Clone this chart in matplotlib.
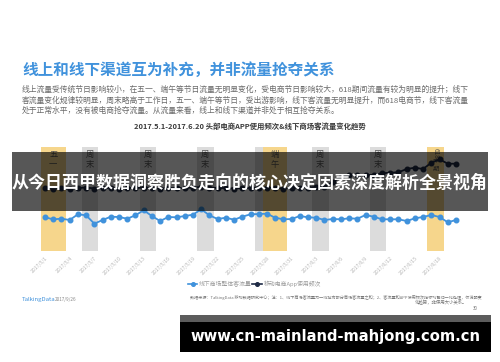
import numpy as np
import pandas as pd
import matplotlib
matplotlib.use("Agg")
import matplotlib.pyplot as plt
from matplotlib.patches import Rectangle

plt.rcParams['font.family'] = ['Noto Sans CJK SC', 'DejaVu Sans']

# ---------------- data ----------------
dates = pd.date_range('2017-05-01', '2017-06-20', freq='D')
day_idx = np.arange(len(dates))

offline_traffic = [33.7, 31.7, 32.3, 31.0, 36.7, 35.7, 27.3, 31.0, 34.3, 34.0,
                   32.3, 35.7, 40.7, 35.0, 30.0, 34.0, 33.7, 35.0, 36.3, 41.7,
                   35.7, 32.0, 33.3, 31.3, 34.3, 36.7, 37.0, 37.3, 33.3, 31.7,
                   32.0, 35.0, 33.7, 33.3, 31.0, 32.0, 31.7, 32.7, 32.3, 36.0,
                   34.3, 31.7, 31.7, 31.7, 30.0, 32.7, 34.0, 36.0, 34.0, 28.7,
                   31.0]
app_usage = [63.0, 62.5, 63.0, 62.0, 63.0, 63.5, 62.5, 63.0, 63.0, 62.5,
             63.0, 63.0, 63.5, 63.0, 62.5, 63.0, 63.0, 63.0, 63.5, 64.0,
             63.5, 63.0, 63.0, 62.5, 63.0, 63.0, 63.5, 63.5, 63.0, 62.5,
             63.0, 63.5, 63.5, 64.0, 64.5, 69.0, 74.0, 76.0, 76.0, 76.0,
             76.0, 77.7, 78.3, 78.7, 82.0, 83.3, 82.0, 88.3, 91.7, 87.3,
             87.3]

tick_days = list(range(0, 51, 3))
tick_labels = ["2017/5/1", "2017/5/4", "2017/5/7", "2017/5/10", "2017/5/13",
               "2017/5/16", "2017/5/19", "2017/5/22", "2017/5/25", "2017/5/28",
               "2017/5/31", "2017/6/3", "2017/6/6", "2017/6/9", "2017/6/12",
               "2017/6/15", "2017/6/18"]

band_start = [0, 5, 12, 19, 26, 27, 33, 40, 47]
band_end = [2, 6, 13, 20, 26, 29, 34, 41, 48]
band_kind = ['holiday', 'weekend', 'weekend', 'weekend', 'weekend', 'holiday',
             'weekend', 'weekend', 'holiday']
band_label = ['五\n一', '周\n末', '周\n末', '周\n末', '', '端\n午', '周\n末', '周\n末', '']

series_names = ['线下商场整体客流量', '移动电商App使用频次']

title = '线上和线下渠道互为补充，并非流量抢夺关系'
para = ['线上流量受传统节日影响较小，在五一、端午等节日流量无明显变化，受电商节日影响较大，618期间流量有较为明显的提升；线下',
        '客流量变化规律较明显，周末略高于工作日，五一、端午等节日，受出游影响，线下客流量无明显提升，而618电商节，线下客流量',
        '处于正常水平，没有被电商抢夺流量。从流量来看，线上和线下渠道并非处于相互抢夺关系。']
subtitle = '2017.5.1-2017.6.20 头部电商APP使用频次&线下商场客流量变化趋势'
banner = '从今日西甲数据洞察胜负走向的核心决定因素深度解析全景视角'
url = 'www.cn-mainland-mahjong.com.cn'
source1 = '数据来源：TalkingData 移动数据研究中心；注：1、线下商场客流量为一线城市部分商场客流量之和；2、客流量和APP使用频次指标均已归一化处理，仅说明变'
source2 = '化趋势，非使用大小关系。'

# ---------------- figure ----------------
W, H = 500, 362
fig = plt.figure(figsize=(5, 3.62), dpi=100)
fig.patch.set_facecolor('white')

BLUE = '#4092dc'
DARK = '#1e2a45'
YEL = '#f6d68c'
GRY = '#dcdcdc'

def px_axes(l, t, r, b):
    return [l / W, (H - b) / H, (r - l) / W, (b - t) / H]

ax = fig.add_axes(px_axes(36.8, 147, 464.2, 251))
ax.set_xlim(-1, 51)
ax.set_ylim(0, 104)
for s in ax.spines.values():
    s.set_visible(False)
ax.set_yticks([])

for s0, s1, k, lab in zip(band_start, band_end, band_kind, band_label):
    ax.axvspan(s0 - 0.5, s1 + 0.5, color=YEL if k == 'holiday' else GRY, lw=0, zorder=0)
    if lab:
        ax.text((s0 + s1) / 2, 101, lab, ha='center', va='top', fontsize=6,
                color='#555555', linespacing=1.15, zorder=1)
# 618 label (top of the band)
ax.text(47.5, 103.5, '618', rotation=-90, ha='center', va='top', fontsize=4.6, color='#555555')
ax.text(47.5, 94, '中\n期', ha='center', va='top', fontsize=4.5, color='#555555', linespacing=0.95)

ax.plot(day_idx, offline_traffic, color=BLUE, lw=1.3, marker='o', ms=3.3, zorder=3)
ax.plot(day_idx, app_usage, color=DARK, lw=1.3, marker='o', ms=3.3, zorder=3)

ax.set_xticks(tick_days)
ax.set_xticklabels(tick_labels, rotation=45, ha='right', rotation_mode='anchor',
                   fontsize=3.7, color='#b5b5b5')
ax.tick_params(axis='x', length=0, pad=3)

# ---------------- overlay ----------------
ov = fig.add_axes([0, 0, 1, 1])
ov.set_xlim(0, W)
ov.set_ylim(H, 0)
ov.axis('off')
ov.patch.set_alpha(0)
ov.set_zorder(10)

texts_to_fit = []

t = ov.text(22, 70, title, fontsize=11.2, fontweight='bold', color=BLUE, va='center', ha='left')
texts_to_fit.append((t, 311))
for i, (line, y) in enumerate(zip(para, [90, 100.5, 111])):
    t = ov.text(22, y, line, fontsize=5.6, color='#6a6a6a', va='center', ha='left')
    texts_to_fit.append((t, 448 if i < 2 else 0))
t = ov.text(249.5, 126, subtitle, fontsize=5.3, fontweight='bold', color='#3a3a3a', va='center', ha='center')
texts_to_fit.append((t, 233))

# legend
ov.plot([188, 197], [284, 284], color=BLUE, lw=1.2)
ov.plot([192.5], [284], color=BLUE, marker='o', ms=2.6)
ov.text(199, 284, series_names[0], fontsize=4.2, color='#9a9a9a', va='center', ha='left')
ov.plot([252, 262], [284, 284], color=DARK, lw=1.2)
ov.plot([257], [284], color=DARK, marker='o', ms=2.6)
ov.text(264, 284, series_names[1], fontsize=4.2, color='#9a9a9a', va='center', ha='left')

t = ov.text(190, 297, source1, fontsize=3.2, color='#777777', va='center', ha='left')
texts_to_fit.append((t, 288))
ov.text(467, 302, source2, fontsize=3.2, color='#777777', va='center', ha='right')
ov.text(478, 309, '30', fontsize=3.2, color='#777777', va='center', ha='right')

ov.text(22, 300, 'TalkingData', fontsize=4.3, color=BLUE, va='center', ha='left')
ov.text(55, 300, '2017/9/26', fontsize=3.3, color='#888888', va='center', ha='left')

# middle banner
ov.add_patch(Rectangle((12, 152), 476, 59, facecolor='black', alpha=0.66, lw=0, zorder=5))
t = ov.text(250, 183, banner, fontsize=12.2, fontweight='bold', color='white',
            va='center', ha='center', zorder=6)
texts_to_fit.append((t, 473))

# bottom banner
ov.add_patch(Rectangle((180, 315), 311, 7, facecolor='#5c5c5c', lw=0, zorder=5))
ov.add_patch(Rectangle((180, 322), 311, 30, facecolor='black', lw=0, zorder=5))
t = ov.text(335, 337, url, fontsize=11, fontweight='bold', color='white',
            family=['DejaVu Sans'], va='center', ha='center', zorder=6)
texts_to_fit.append((t, 290))

fig.canvas.draw()
r = fig.canvas.get_renderer()
for t, w in texts_to_fit:
    if w > 0:
        bb = t.get_window_extent(r)
        t.set_fontsize(t.get_fontsize() * w / bb.width)
texts_to_fit[3][0].set_fontsize(texts_to_fit[1][0].get_fontsize())

fig.savefig('out.png', dpi=100, facecolor='white')
